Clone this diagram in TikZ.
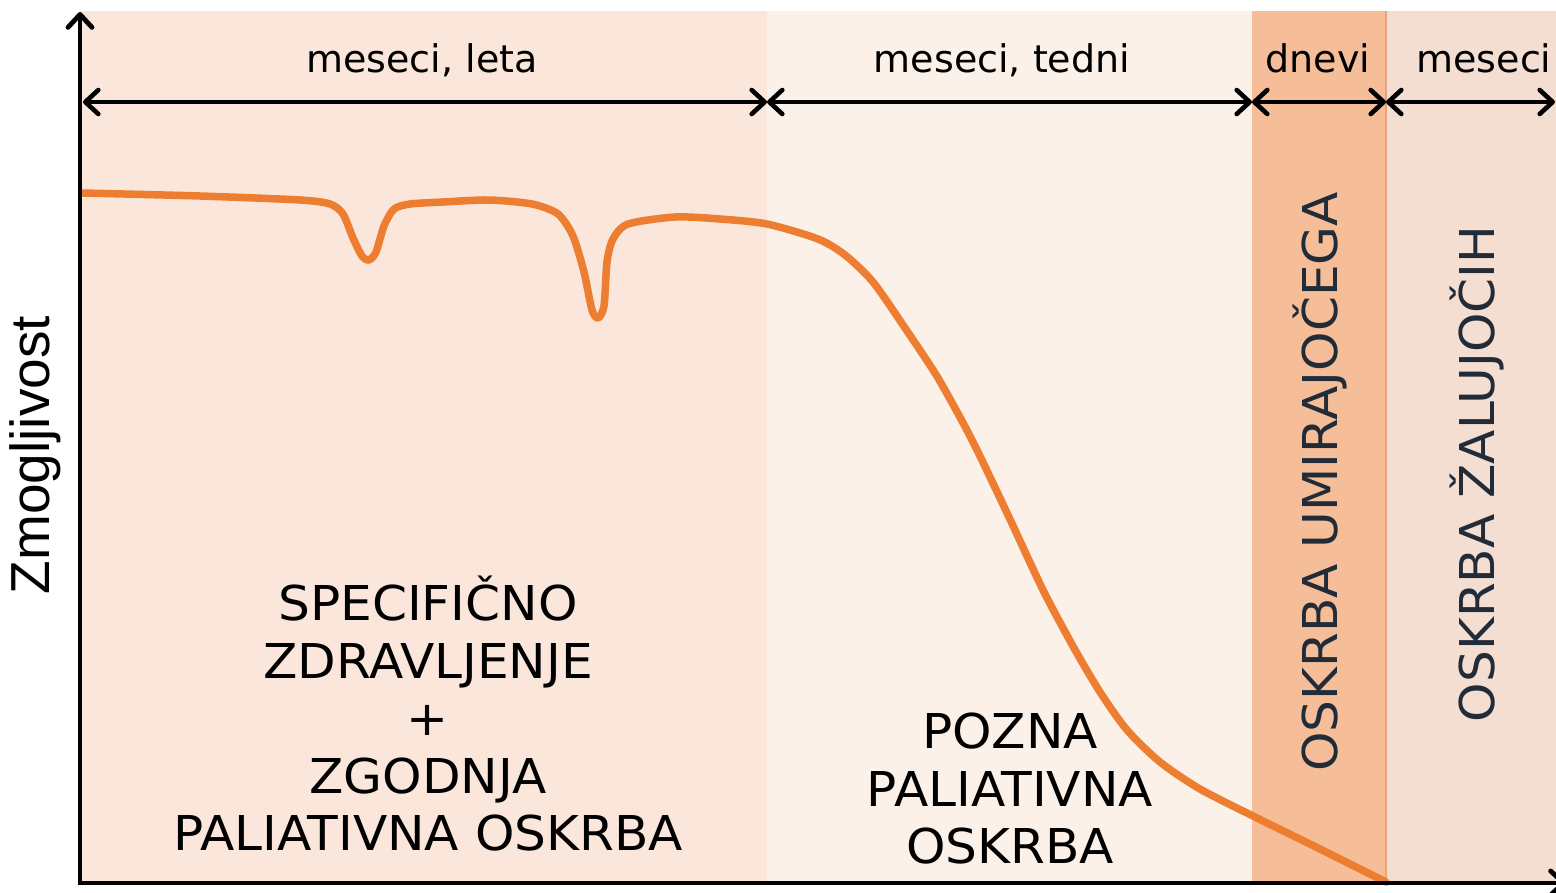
\documentclass[tikz,border=0pt]{standalone}
\usepackage{fontspec}
\setmainfont{DejaVu Sans}
\newfontfamily\wideface[FakeStretch=1.045]{DejaVu Sans}
\newfontfamily\axisfont{Liberation Sans}
\usetikzlibrary{arrows.meta}
\definecolor{regA}{HTML}{FAE6DA}
\definecolor{regB}{HTML}{FCF1E8}
\definecolor{regC}{HTML}{F5BD98}
\definecolor{regD}{HTML}{F3DED1}
\definecolor{curveC}{HTML}{ED7D31}
\definecolor{vtext}{HTML}{222B38}
\definecolor{edgeC}{HTML}{EAA47C}
\tikzset{
  barb/.tip={Straight Barb[length=13pt,width=24pt,round]},
  dimline/.style={line width=4.6pt, barb-barb},
  axisline/.style={line width=4.8pt, -barb},
  spanlabel/.style={font=\fontsize{38}{44}\selectfont, text=black, inner sep=0pt},
  bigtext/.style={font=\wideface\fontsize{48}{57.5}\selectfont, text=black, align=center, inner sep=0pt},
  vlabel/.style={font=\wideface\fontsize{48}{56}\selectfont, text=vtext, rotate=90, inner sep=0pt},
  curveline/.style={curveC, line width=7.5pt, line cap=round, line join=round},
}
\begin{document}
\begin{tikzpicture}[x=1pt,y=-1pt]
\useasboundingbox (0,0) rectangle (1556,892);
\fill[white] (0,0) rectangle (1556,892);
% regions
\fill[regA] (80,11) rectangle (767,883);
\fill[regB] (767,11) rectangle (1252,883);
\fill[regC] (1252,11) rectangle (1386,883);
\fill[regD] (1386,11) rectangle (1560,883);
\draw[edgeC, line width=1.2pt] (1386,11) -- (1386,883);
% coordinates for spans
\coordinate (t0) at (83,102);
\coordinate (t1) at (767,102);
\coordinate (t2) at (1252,102);
\coordinate (t3) at (1386,102);
\coordinate (t4) at (1555,102);
\coordinate (o) at (80,883);
\coordinate (ytop) at (80,12);
\coordinate (xend) at (1566,883);
% span labels
\node[spanlabel] (l1) at (422,60) {meseci, leta};
\node[spanlabel] (l2) at (1002,60) {meseci, tedni};
\node[spanlabel] (l3) at (1318,58) {dnevi};
\node[spanlabel] (l4) at (1484,58) {meseci};
% span arrows
\draw[dimline] (t0) -- (t1);
\draw[dimline] (t1) -- (t2);
\draw[dimline] (t2) -- (t3);
\draw[dimline] (t3) -- (t4);
% curve
\draw[curveline] plot[smooth, tension=0.45] coordinates {
(83,193) (200,196) (300,200) (330,204) (343,214) (353,238) (362,256) (369,260)
(376,252) (384,226) (394,209) (410,204) (443,202) (489,200) (532,204) (558,214)
(573,236) (584,272) (592,310) (598,318) (604,306) (607,262) (613,239) (628,224)
(675,217) (720,219) (767,224) (818,239) (845,255) (873,282) (905,328) (938,378)
(972,440) (1008,515) (1043,590) (1074,648) (1100,692) (1127,730) (1160,762)
(1200,789) (1257,818) (1320,849) (1386,882)};
% axes
\draw[axisline] (o) -- (ytop);
\draw[axisline] ([xshift=-2pt]o) -- (xend);
% texts
\node[bigtext] (spec) at (428,714) {SPECIFIČNO\\ZDRAVLJENJE\\+\\ZGODNJA\\PALIATIVNA OSKRBA};
\node[bigtext] (pozna) at (1010,789) {POZNA\\PALIATIVNA\\OSKRBA};
\node[vlabel] (umir) at (1320,482) {OSKRBA UMIRAJOČEGA};
\node[vlabel] (zal) at (1477,474) {OSKRBA ŽALUJOČIH};
\node[font=\axisfont\fontsize{55}{62}\selectfont, rotate=90, inner sep=0pt] (zm) at (35,455) {Zmogljivost};
\end{tikzpicture}
\end{document}
